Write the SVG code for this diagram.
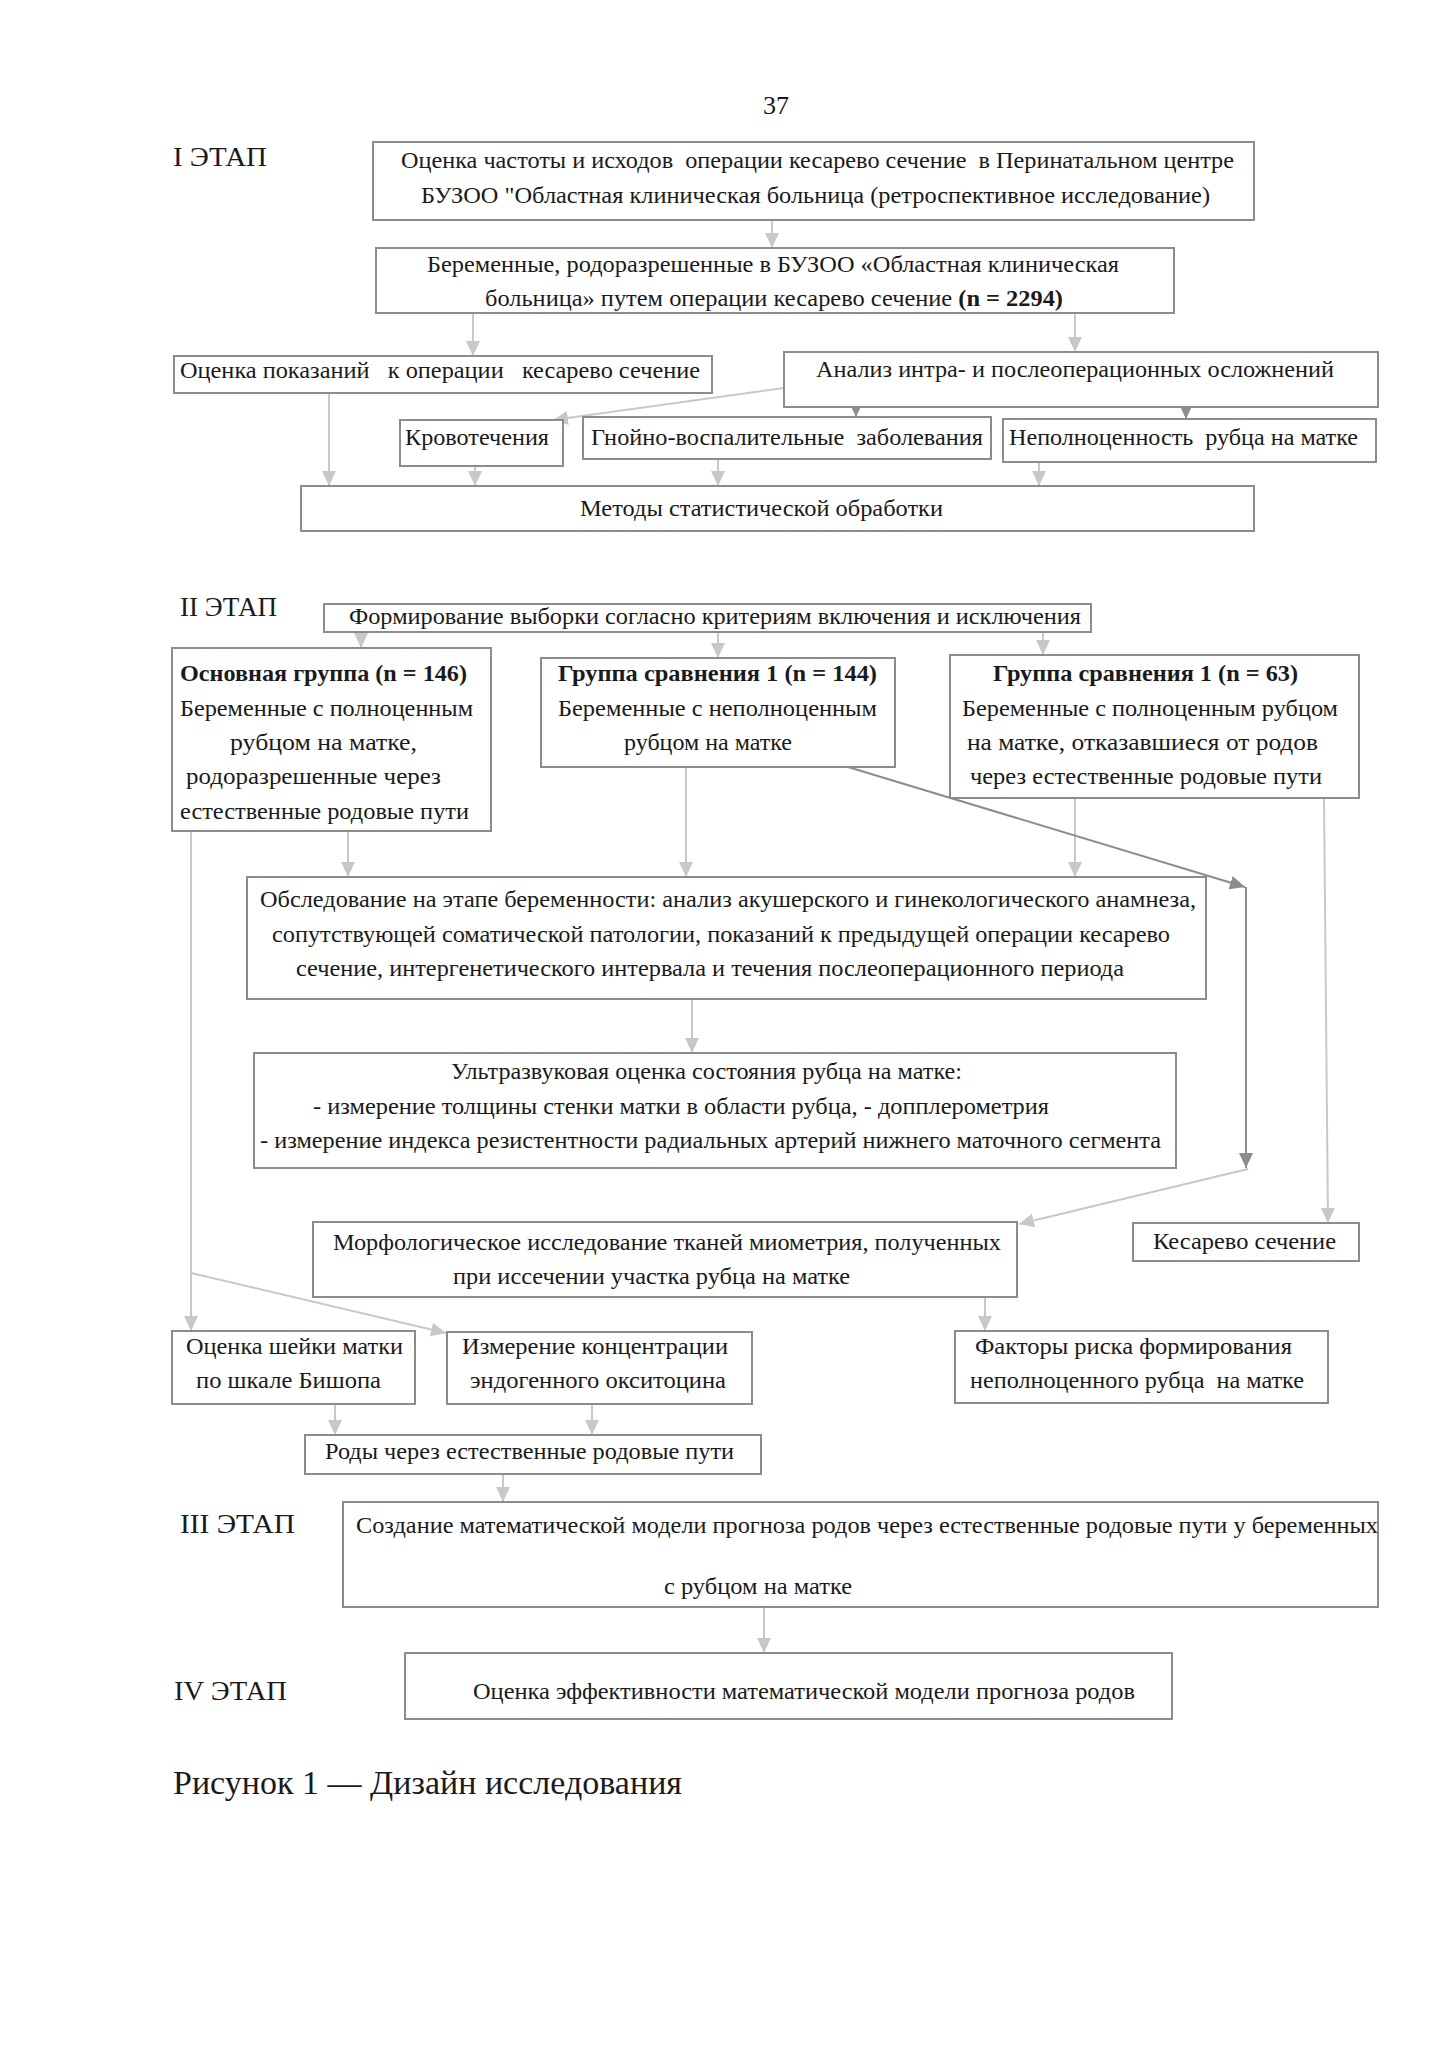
<svg xmlns="http://www.w3.org/2000/svg" width="1448" height="2050" viewBox="0 0 1448 2050">
<style>
text{font-family:"Liberation Serif","Times New Roman",serif;font-size:24px;fill:#1a1a1a}
.b{font-weight:bold}
.st{font-size:27px}
.cap{font-size:34px}
.box{fill:#fff;stroke:#8c8c8c;stroke-width:2}
.cl{stroke:#c8c8c8;stroke-width:2;fill:none}
.cd{stroke:#8c8c8c;stroke-width:2;fill:none}
</style>
<defs>
<marker id="al" markerUnits="userSpaceOnUse" markerWidth="15" markerHeight="14" refX="15" refY="7" orient="auto"><path d="M0,0 L15,7 L0,14 z" fill="#c8c8c8"/></marker>
<marker id="ad" markerUnits="userSpaceOnUse" markerWidth="15" markerHeight="14" refX="15" refY="7" orient="auto"><path d="M0,0 L15,7 L0,14 z" fill="#8c8c8c"/></marker>
</defs>
<rect width="1448" height="2050" fill="#fff"/>
<text x="776" y="114" text-anchor="middle" style="font-size:26px">37</text>
<g id="labels">
<text class="st" x="173" y="166" textLength="94" lengthAdjust="spacingAndGlyphs">I ЭТАП</text>
<text class="st" x="180" y="616" textLength="97" lengthAdjust="spacingAndGlyphs">II ЭТАП</text>
<text class="st" x="180" y="1533" textLength="115" lengthAdjust="spacingAndGlyphs">III ЭТАП</text>
<text class="st" x="174" y="1700" textLength="113" lengthAdjust="spacingAndGlyphs">IV ЭТАП</text>
</g>
<g id="connectors">
<line class="cl" x1="772" y1="220" x2="772" y2="248" marker-end="url(#al)"/>
<line class="cl" x1="473" y1="313" x2="473" y2="356" marker-end="url(#al)"/>
<line class="cl" x1="1075" y1="313" x2="1075" y2="352" marker-end="url(#al)"/>
<line class="cl" x1="784" y1="388" x2="553" y2="420" marker-end="url(#al)"/>
<line class="cd" x1="856" y1="398" x2="856" y2="417" marker-end="url(#ad)"/>
<line class="cd" x1="1186" y1="398" x2="1186" y2="419" marker-end="url(#ad)"/>
<line class="cl" x1="329" y1="393" x2="329" y2="486" marker-end="url(#al)"/>
<line class="cl" x1="475" y1="466" x2="475" y2="486" marker-end="url(#al)"/>
<line class="cl" x1="718" y1="459" x2="718" y2="486" marker-end="url(#al)"/>
<line class="cl" x1="1039" y1="462" x2="1039" y2="486" marker-end="url(#al)"/>
<line class="cl" x1="361" y1="632" x2="361" y2="648" marker-end="url(#al)"/>
<line class="cl" x1="718" y1="632" x2="718" y2="658" marker-end="url(#al)"/>
<line class="cl" x1="1043" y1="632" x2="1043" y2="655" marker-end="url(#al)"/>
<line class="cl" x1="348" y1="831" x2="348" y2="877" marker-end="url(#al)"/>
<line class="cl" x1="686" y1="767" x2="686" y2="877" marker-end="url(#al)"/>
<line class="cl" x1="1075" y1="798" x2="1075" y2="877" marker-end="url(#al)"/>
<line class="cd" x1="848" y1="767" x2="1245" y2="887" marker-end="url(#ad)"/>
<line class="cd" x1="1246" y1="887" x2="1246" y2="1168" marker-end="url(#ad)"/>
<line class="cl" x1="1248" y1="1169" x2="1019" y2="1224" marker-end="url(#al)"/>
<line class="cl" x1="1324" y1="798" x2="1328" y2="1223" marker-end="url(#al)"/>
<line class="cl" x1="692" y1="999" x2="692" y2="1053" marker-end="url(#al)"/>
<line class="cl" x1="191" y1="831" x2="191" y2="1331" marker-end="url(#al)"/>
<line class="cl" x1="191" y1="1273" x2="446" y2="1333" marker-end="url(#al)"/>
<line class="cl" x1="985" y1="1297" x2="985" y2="1331" marker-end="url(#al)"/>
<line class="cl" x1="335" y1="1404" x2="335" y2="1435" marker-end="url(#al)"/>
<line class="cl" x1="592" y1="1404" x2="592" y2="1435" marker-end="url(#al)"/>
<line class="cl" x1="503" y1="1474" x2="503" y2="1502" marker-end="url(#al)"/>
<line class="cl" x1="764" y1="1607" x2="764" y2="1653" marker-end="url(#al)"/>
</g>
<g id="n1"><rect class="box" x="373" y="142" width="881" height="78"/>
<text x="401" y="168" textLength="833" lengthAdjust="spacingAndGlyphs" xml:space="preserve">Оценка частоты и исходов  операции кесарево сечение  в Перинатальном центре</text>
<text x="421" y="203" textLength="789" lengthAdjust="spacingAndGlyphs">БУЗОО "Областная клиническая больница (ретроспективное исследование)</text></g>
<g id="n2"><rect class="box" x="376" y="248" width="798" height="65"/>
<text x="427" y="272" textLength="692" lengthAdjust="spacingAndGlyphs">Беременные, родоразрешенные в БУЗОО «Областная клиническая</text>
<text x="485" y="306" textLength="578" lengthAdjust="spacingAndGlyphs">больница» путем операции кесарево сечение <tspan class="b">(n = 2294)</tspan></text></g>
<g id="n3"><rect class="box" x="174" y="356" width="538" height="37"/>
<text x="180" y="378" textLength="520" lengthAdjust="spacingAndGlyphs" xml:space="preserve">Оценка показаний   к операции   кесарево сечение</text></g>
<g id="n4"><rect class="box" x="784" y="352" width="594" height="55"/>
<text x="816" y="377" textLength="518" lengthAdjust="spacingAndGlyphs">Анализ интра- и послеоперационных осложнений</text></g>
<g id="n5"><rect class="box" x="400" y="420" width="163" height="46"/>
<text x="405" y="445" textLength="144" lengthAdjust="spacingAndGlyphs">Кровотечения</text></g>
<g id="n6"><rect class="box" x="583" y="417" width="408" height="42"/>
<text x="591" y="445" textLength="392" lengthAdjust="spacingAndGlyphs" xml:space="preserve">Гнойно-воспалительные  заболевания</text></g>
<g id="n7"><rect class="box" x="1003" y="419" width="373" height="43"/>
<text x="1009" y="445" textLength="349" lengthAdjust="spacingAndGlyphs" xml:space="preserve">Неполноценность  рубца на матке</text></g>
<g id="n8"><rect class="box" x="301" y="486" width="953" height="45"/>
<text x="580" y="516" textLength="363" lengthAdjust="spacingAndGlyphs">Методы статистической обработки</text></g>
<g id="n9"><rect class="box" x="324" y="604" width="767" height="28"/>
<text x="349" y="624" textLength="732" lengthAdjust="spacingAndGlyphs">Формирование выборки согласно критериям включения и исключения</text></g>
<g id="n10"><rect class="box" x="172" y="648" width="319" height="183"/>
<text class="b" x="180" y="681" textLength="287" lengthAdjust="spacingAndGlyphs">Основная группа (n = 146)</text>
<text x="180" y="716" textLength="293" lengthAdjust="spacingAndGlyphs">Беременные с полноценным</text>
<text x="230" y="750" textLength="187" lengthAdjust="spacingAndGlyphs">рубцом на матке,</text>
<text x="186" y="784" textLength="255" lengthAdjust="spacingAndGlyphs">родоразрешенные через</text>
<text x="180" y="819" textLength="289" lengthAdjust="spacingAndGlyphs">естественные родовые пути</text></g>
<g id="n11"><rect class="box" x="541" y="658" width="354" height="109"/>
<text class="b" x="558" y="681" textLength="319" lengthAdjust="spacingAndGlyphs">Группа сравнения 1 (n = 144)</text>
<text x="558" y="716" textLength="319" lengthAdjust="spacingAndGlyphs">Беременные с неполноценным</text>
<text x="624" y="750" textLength="168" lengthAdjust="spacingAndGlyphs">рубцом на матке</text></g>
<g id="n12"><rect class="box" x="950" y="655" width="409" height="143"/>
<text class="b" x="993" y="681" textLength="305" lengthAdjust="spacingAndGlyphs">Группа сравнения 1 (n = 63)</text>
<text x="962" y="716" textLength="376" lengthAdjust="spacingAndGlyphs">Беременные с полноценным рубцом</text>
<text x="967" y="750" textLength="351" lengthAdjust="spacingAndGlyphs">на матке, отказавшиеся от родов</text>
<text x="970" y="784" textLength="352" lengthAdjust="spacingAndGlyphs">через естественные родовые пути</text></g>
<g id="n13"><rect class="box" x="247" y="877" width="959" height="122"/>
<text x="260" y="907" textLength="936" lengthAdjust="spacingAndGlyphs">Обследование на этапе беременности: анализ акушерского и гинекологического анамнеза,</text>
<text x="272" y="942" textLength="898" lengthAdjust="spacingAndGlyphs">сопутствующей соматической патологии, показаний к предыдущей операции кесарево</text>
<text x="296" y="976" textLength="828" lengthAdjust="spacingAndGlyphs">сечение, интергенетического интервала и течения послеоперационного периода</text></g>
<g id="n14"><rect class="box" x="254" y="1053" width="922" height="115"/>
<text x="451" y="1079" textLength="511" lengthAdjust="spacingAndGlyphs">Ультразвуковая оценка состояния рубца на матке:</text>
<text x="313" y="1114" textLength="736" lengthAdjust="spacingAndGlyphs">- измерение толщины стенки матки в области рубца, - допплерометрия</text>
<text x="260" y="1148" textLength="901" lengthAdjust="spacingAndGlyphs">- измерение индекса резистентности радиальных артерий нижнего маточного сегмента</text></g>
<g id="n15"><rect class="box" x="313" y="1222" width="704" height="75"/>
<text x="333" y="1250" textLength="668" lengthAdjust="spacingAndGlyphs">Морфологическое исследование тканей миометрия, полученных</text>
<text x="453" y="1284" textLength="397" lengthAdjust="spacingAndGlyphs">при иссечении участка рубца на матке</text></g>
<g id="n16"><rect class="box" x="1133" y="1223" width="226" height="38"/>
<text x="1153" y="1249" textLength="183" lengthAdjust="spacingAndGlyphs">Кесарево сечение</text></g>
<g id="n17"><rect class="box" x="172" y="1331" width="243" height="73"/>
<text x="186" y="1354" textLength="217" lengthAdjust="spacingAndGlyphs">Оценка шейки матки</text>
<text x="196" y="1388" textLength="185" lengthAdjust="spacingAndGlyphs">по шкале Бишопа</text></g>
<g id="n18"><rect class="box" x="447" y="1332" width="305" height="72"/>
<text x="462" y="1354" textLength="266" lengthAdjust="spacingAndGlyphs">Измерение концентрации</text>
<text x="470" y="1388" textLength="256" lengthAdjust="spacingAndGlyphs">эндогенного окситоцина</text></g>
<g id="n19"><rect class="box" x="955" y="1331" width="373" height="72"/>
<text x="975" y="1354" textLength="317" lengthAdjust="spacingAndGlyphs">Факторы риска формирования</text>
<text x="970" y="1388" textLength="334" lengthAdjust="spacingAndGlyphs" xml:space="preserve">неполноценного рубца  на матке</text></g>
<g id="n20"><rect class="box" x="305" y="1435" width="456" height="39"/>
<text x="325" y="1459" textLength="409" lengthAdjust="spacingAndGlyphs">Роды через естественные родовые пути</text></g>
<g id="n21"><rect class="box" x="343" y="1502" width="1035" height="105"/>
<text x="356" y="1533" textLength="1022" lengthAdjust="spacingAndGlyphs">Создание математической модели прогноза родов через естественные родовые пути у беременных</text>
<text x="664" y="1594" textLength="188" lengthAdjust="spacingAndGlyphs">с рубцом на матке</text></g>
<g id="n22"><rect class="box" x="405" y="1653" width="767" height="66"/>
<text x="473" y="1699" textLength="662" lengthAdjust="spacingAndGlyphs">Оценка эффективности математической модели прогноза родов</text></g>
<text class="cap" x="173" y="1794" textLength="509" lengthAdjust="spacingAndGlyphs">Рисунок 1 — Дизайн исследования</text>
</svg>
